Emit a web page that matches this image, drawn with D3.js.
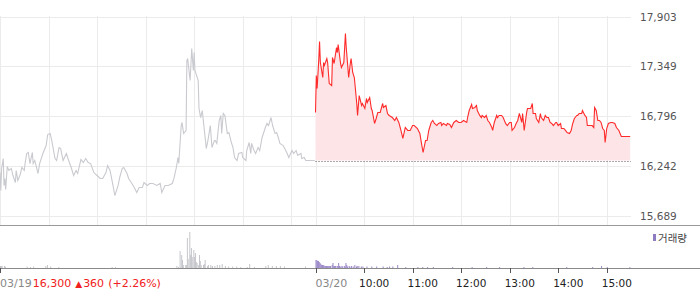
<!DOCTYPE html>
<html><head><meta charset="utf-8">
<script src="https://cdn.jsdelivr.net/npm/d3@7"></script>
<style>body{margin:0;background:#fff}svg{display:block}</style>
</head><body><svg id="c" width="700" height="289"></svg>
<script>
// ---- data ----
const yTicks = [15689, 16242, 16796, 17349, 17903];
const prevClose = 16300;
const changeValue = 360;
const changePct = 2.26;
const prevDateLabel = "03/19";
// minutes since 09:00 of 03/19 (03/20 09:00 = 390)
const gridMinutes = [0, 60, 120, 180, 240, 300, 360, 390, 450, 510, 570, 630, 690, 750];
const timeTickMinutes = [390, 450, 510, 570, 630, 690, 750];
const timeTickLabels = ["03/20", "10:00", "11:00", "12:00", "13:00", "14:00", "15:00"];

const day1Minutes = [
 0,1,2,4,5,6,7,9,11,14, 16,19,20,22,25,27,30,31,33,35,
 37,40,41,43,47,49,53,57,59,62, 64,68,70,73,75,78,82,84,88,91,
 94,96,100,103,106,109,112,116,120,124, 127,131,133,136,138,142,146,148,151,153,
 157,159,163,166,169,172,176,178,182,185, 189,194,198,200,204,208,213,215,218,220,
 221,224,225,227,230,231,232,235,237,239, 240,241,245,246,248,250,252,255,257,260,
 262,265,266,268,271,273,274,276,278,281, 283,286,288,290,293,295,299,300,304,305,
 308,310,311,314,316,319,321,324,328,330, 332,335,337,340,342,344,346,350,352,355,
 357,361,363,366,368,372,373,376,378,389];
const day1Prices = [
 16167,15967,16212,16323,16023,16101,15978,16234,16190,16212, 16134,16056,16190,16078,16145,16223,16190,16267,16379,16390,
 16267,16390,16267,16301,16156,16267,16379,16467,16590,16601, 16523,16323,16301,16445,16434,16301,16379,16323,16223,16134,
 16190,16156,16312,16279,16323,16279,16267,16167,16134,16101, 16101,16167,16245,16190,16101,15911,16023,16112,16212,16223,
 16156,16101,16045,16000,15945,16000,16000,16056,16023,16045, 16045,16023,16045,15945,16023,16023,16045,16101,16223,16334,
 16267,16690,16724,16601,16635,17413,17436,17191,17547,17302, 17502,17302,17191,16879,16779,16857,16690,16434,16523,16690,
 16445,16523,16523,16491,16746,16802,16601,16824,16802,16601, 16612,16501,16445,16334,16301,16379,16390,16334,16301,16412,
 16501,16379,16491,16412,16379,16445,16412,16557,16668,16713, 16690,16779,16690,16601,16612,16557,16491,16467,16434,16379,
 16334,16412,16379,16412,16357,16379,16323,16334,16301,16301];

const day2Minutes = [
 390,391,392,394,395,396,399,400,401,404, 405,407,410,411,413,416,417,418,421,422,
 425,427,428,431,433,434,436,438,441,442, 444,447,448,451,453,454,457,459,460,463,
 465,467,470,473,474,477,479,481,485,488, 490,493,495,498,501,504,507,510,512,516,
 519,521,523,526,528,530,533,535,537,540, 542,545,546,548,552,553,556,558,561,564,
 567,570,573,577,578,580,583,584,587,589, 590,593,595,596,599,601,603,605,608,609,
 611,614,615,617,620,622,625,627,630,632, 633,636,638,640,642,645,646,648,651,652,
 656,658,659,662,663,666,668,669,672,674, 676,678,680,682,684,687,688,690,693,694,
 697,699,701,704,706,708,710,713,714,716, 719,720,723,725,726,730,732,734,735,737,
 739,741,743,745,747,748,750,752,755,757, 760,762,765,768,779];
const day2Prices = [
 16835,17247,17102,17413,17625,17391,17224,17391,17358,17436, 17391,17158,17134,17447,17380,17558,17502,17591,17380,17336,
 17391,17714,17558,17224,17380,17436,17280,17224,16935,16802, 17024,16913,16935,16879,16991,16946,17002,16879,16857,16713,
 16768,16835,16835,16935,16891,16913,16824,16802,16779,16746, 16779,16724,16657,16546,16668,16635,16635,16690,16690,16657,
 16601,16491,16390,16523,16523,16635,16724,16746,16713,16690, 16713,16724,16690,16713,16690,16713,16701,16668,16724,16746,
 16724,16724,16746,16724,16779,16857,16924,16879,16891,16913, 16857,16802,16779,16802,16779,16802,16746,16724,16668,16635,
 16724,16802,16779,16802,16802,16779,16713,16690,16724,16724, 16635,16668,16713,16746,16824,16724,16824,16635,16835,16879,
 16879,16935,16824,16824,16768,16724,16824,16779,16746,16802, 16779,16779,16724,16713,16690,16724,16724,16690,16713,16657,
 16657,16635,16612,16601,16635,16713,16768,16802,16802,16824, 16824,16857,16802,16779,16690,16690,16690,16668,16891,16857,
 16746,16746,16724,16657,16635,16501,16657,16713,16724,16724, 16713,16668,16635,16568,16568];

const vol1Minutes = [0,1,2,5,6,33,37,41,56,58,62,72,138,142,218,220,222,224,225,226,229,230,231,232,234,235,236,237,239,240,241,242,243,245,246,247,248,251,252,253,256,257,260,262,265,268,271,274,278,282,287,292,297,305,308,314,328,331,336,341,346,351,377];
const vol1Values  = [20,20,20,20,15,15,10,15,20,30,15,10,10,10,20,10,170,130,80,30,30,30,300,90,360,130,200,110,180,110,150,60,50,30,130,70,30,30,40,80,20,30,30,20,20,30,30,40,20,15,15,15,10,10,40,10,20,30,20,20,20,15,15];
const vol2Minutes = [390,391,392,393,394,395,396,397,398,399,400,401,402,403,404,405,406,407,408,410,411,412,413,414,416,417,418,419,420,422,423,425,426,427,428,429,431,432,434,436,438,440,441,443,446,448,453,459,465,473,478,481,485,491,501,516,522,528,535,559,583,601,617,647,658,700,732,743,750,778];
const vol2Values  = [80,80,70,70,60,50,40,30,30,30,25,20,20,20,20,20,20,20,20,30,50,20,20,20,20,20,50,20,15,20,15,20,15,50,30,15,20,15,20,15,30,15,20,20,15,15,15,15,15,15,10,15,15,30,10,10,10,10,10,10,10,10,10,10,10,10,10,20,10,10];

// ---- scales ----
const svg = d3.select("#c");
const x = d3.scaleLinear().domain([0, 780]).range([0, 631]);
const y = d3.scaleLinear().domain([15689, 17903]).range([215.5, 16.5]);
const yv = d3.scaleLinear().domain([0, 430]).range([268, 225]);
const FONT = "'DejaVu Sans', sans-serif";

// grid
svg.append("g").selectAll("line").data(yTicks).join("line")
  .attr("x1", 0).attr("x2", 631).attr("y1", d => Math.round(y(d)) + 0.5).attr("y2", d => Math.round(y(d)) + 0.5)
  .attr("stroke", "#ebebeb");
svg.append("g").selectAll("line").data(gridMinutes).join("line")
  .attr("x1", d => Math.round(x(d)) + 0.5).attr("x2", d => Math.round(x(d)) + 0.5)
  .attr("y1", 16).attr("y2", 225).attr("stroke", "#ebebeb");

// day 2 area + baseline
const d2 = day2Minutes.map((m, i) => [m, day2Prices[i]]);
const d1 = day1Minutes.map((m, i) => [m, day1Prices[i]]);
svg.append("path").datum(d2)
  .attr("d", d3.area().x(d => x(d[0])).y0(y(prevClose)).y1(d => y(d[1])))
  .attr("fill", "#fde4e7");
svg.append("line").attr("x1", x(390)).attr("x2", x(780))
  .attr("y1", Math.round(y(prevClose)) + 0.5).attr("y2", Math.round(y(prevClose)) + 0.5)
  .attr("stroke", "#555").attr("stroke-dasharray", "1,2");

const line = d3.line().x(d => x(d[0])).y(d => y(d[1]));
svg.append("path").datum(d1).attr("d", line).attr("fill", "none")
  .attr("stroke", "#c9cacf").attr("stroke-width", 1.1);
svg.append("path").datum(d2).attr("d", line).attr("fill", "none")
  .attr("stroke", "#ff2b2b").attr("stroke-width", 1.1);

// right axis labels
svg.append("g").selectAll("text").data(yTicks).join("text")
  .attr("x", 640).attr("y", d => y(d) + 4)
  .attr("font-family", FONT).attr("font-size", 10.5).attr("fill", "#555")
  .text(d => d3.format(",")(d));

// panel borders
svg.append("line").attr("x1", 0).attr("x2", 700).attr("y1", 225.5).attr("y2", 225.5).attr("stroke", "#9a9a9a");
// volume bars
svg.append("g").selectAll("rect").data(vol1Minutes).join("rect")
  .attr("x", d => x(d)).attr("width", 1)
  .attr("y", (d, i) => yv(vol1Values[i])).attr("height", (d, i) => yv(0) - yv(vol1Values[i]))
  .attr("fill", "#c5c6cb");
svg.append("g").selectAll("rect").data(vol2Minutes).join("rect")
  .attr("x", d => x(d)).attr("width", 1)
  .attr("y", (d, i) => yv(vol2Values[i])).attr("height", (d, i) => yv(0) - yv(vol2Values[i]))
  .attr("fill", "#9a88c8");
svg.append("line").attr("x1", 0).attr("x2", 700).attr("y1", 268.5).attr("y2", 268.5).attr("stroke", "#8a8a8a");

// x ticks
svg.append("g").selectAll("line").data([0].concat(timeTickMinutes)).join("line")
  .attr("x1", d => Math.round(x(d)) + 0.5).attr("x2", d => Math.round(x(d)) + 0.5)
  .attr("y1", 268).attr("y2", 273).attr("stroke", "#555");

// x labels
svg.append("g").selectAll("text").data(timeTickMinutes).join("text")
  .attr("x", (d, i) => i === 0 ? x(d) : x(d) - 5).attr("y", 287)
  .attr("font-family", FONT).attr("font-size", (d, i) => i === 0 ? 11 : 10.5)
  .attr("fill", (d, i) => i === 0 ? "#888" : "#222")
  .text((d, i) => timeTickLabels[i]);

const info = svg.append("text").attr("x", 0).attr("y", 287)
  .attr("font-family", FONT).attr("font-size", 11);
info.append("tspan").attr("fill", "#888").text(prevDateLabel);
info.append("tspan").attr("fill", "#f02020").attr("dx", 1).text(d3.format(",")(prevClose));
info.append("tspan").attr("fill", "#f02020").attr("dx", 4).attr("font-size", 9).text("▲");
info.append("tspan").attr("fill", "#f02020").attr("dx", 1).text(changeValue);
info.append("tspan").attr("fill", "#f02020").attr("dx", 4).text("(+" + changePct.toFixed(2) + "%)");

// legend
svg.append("rect").attr("x", 653).attr("y", 234).attr("width", 3).attr("height", 7).attr("fill", "#8e7cc3");
svg.append("text").attr("x", 658).attr("y", 241.5)
  .attr("font-family", "'Noto Sans CJK KR', sans-serif").attr("font-size", 10.5).attr("fill", "#444")
  .text("거래량");
</script></body></html>
